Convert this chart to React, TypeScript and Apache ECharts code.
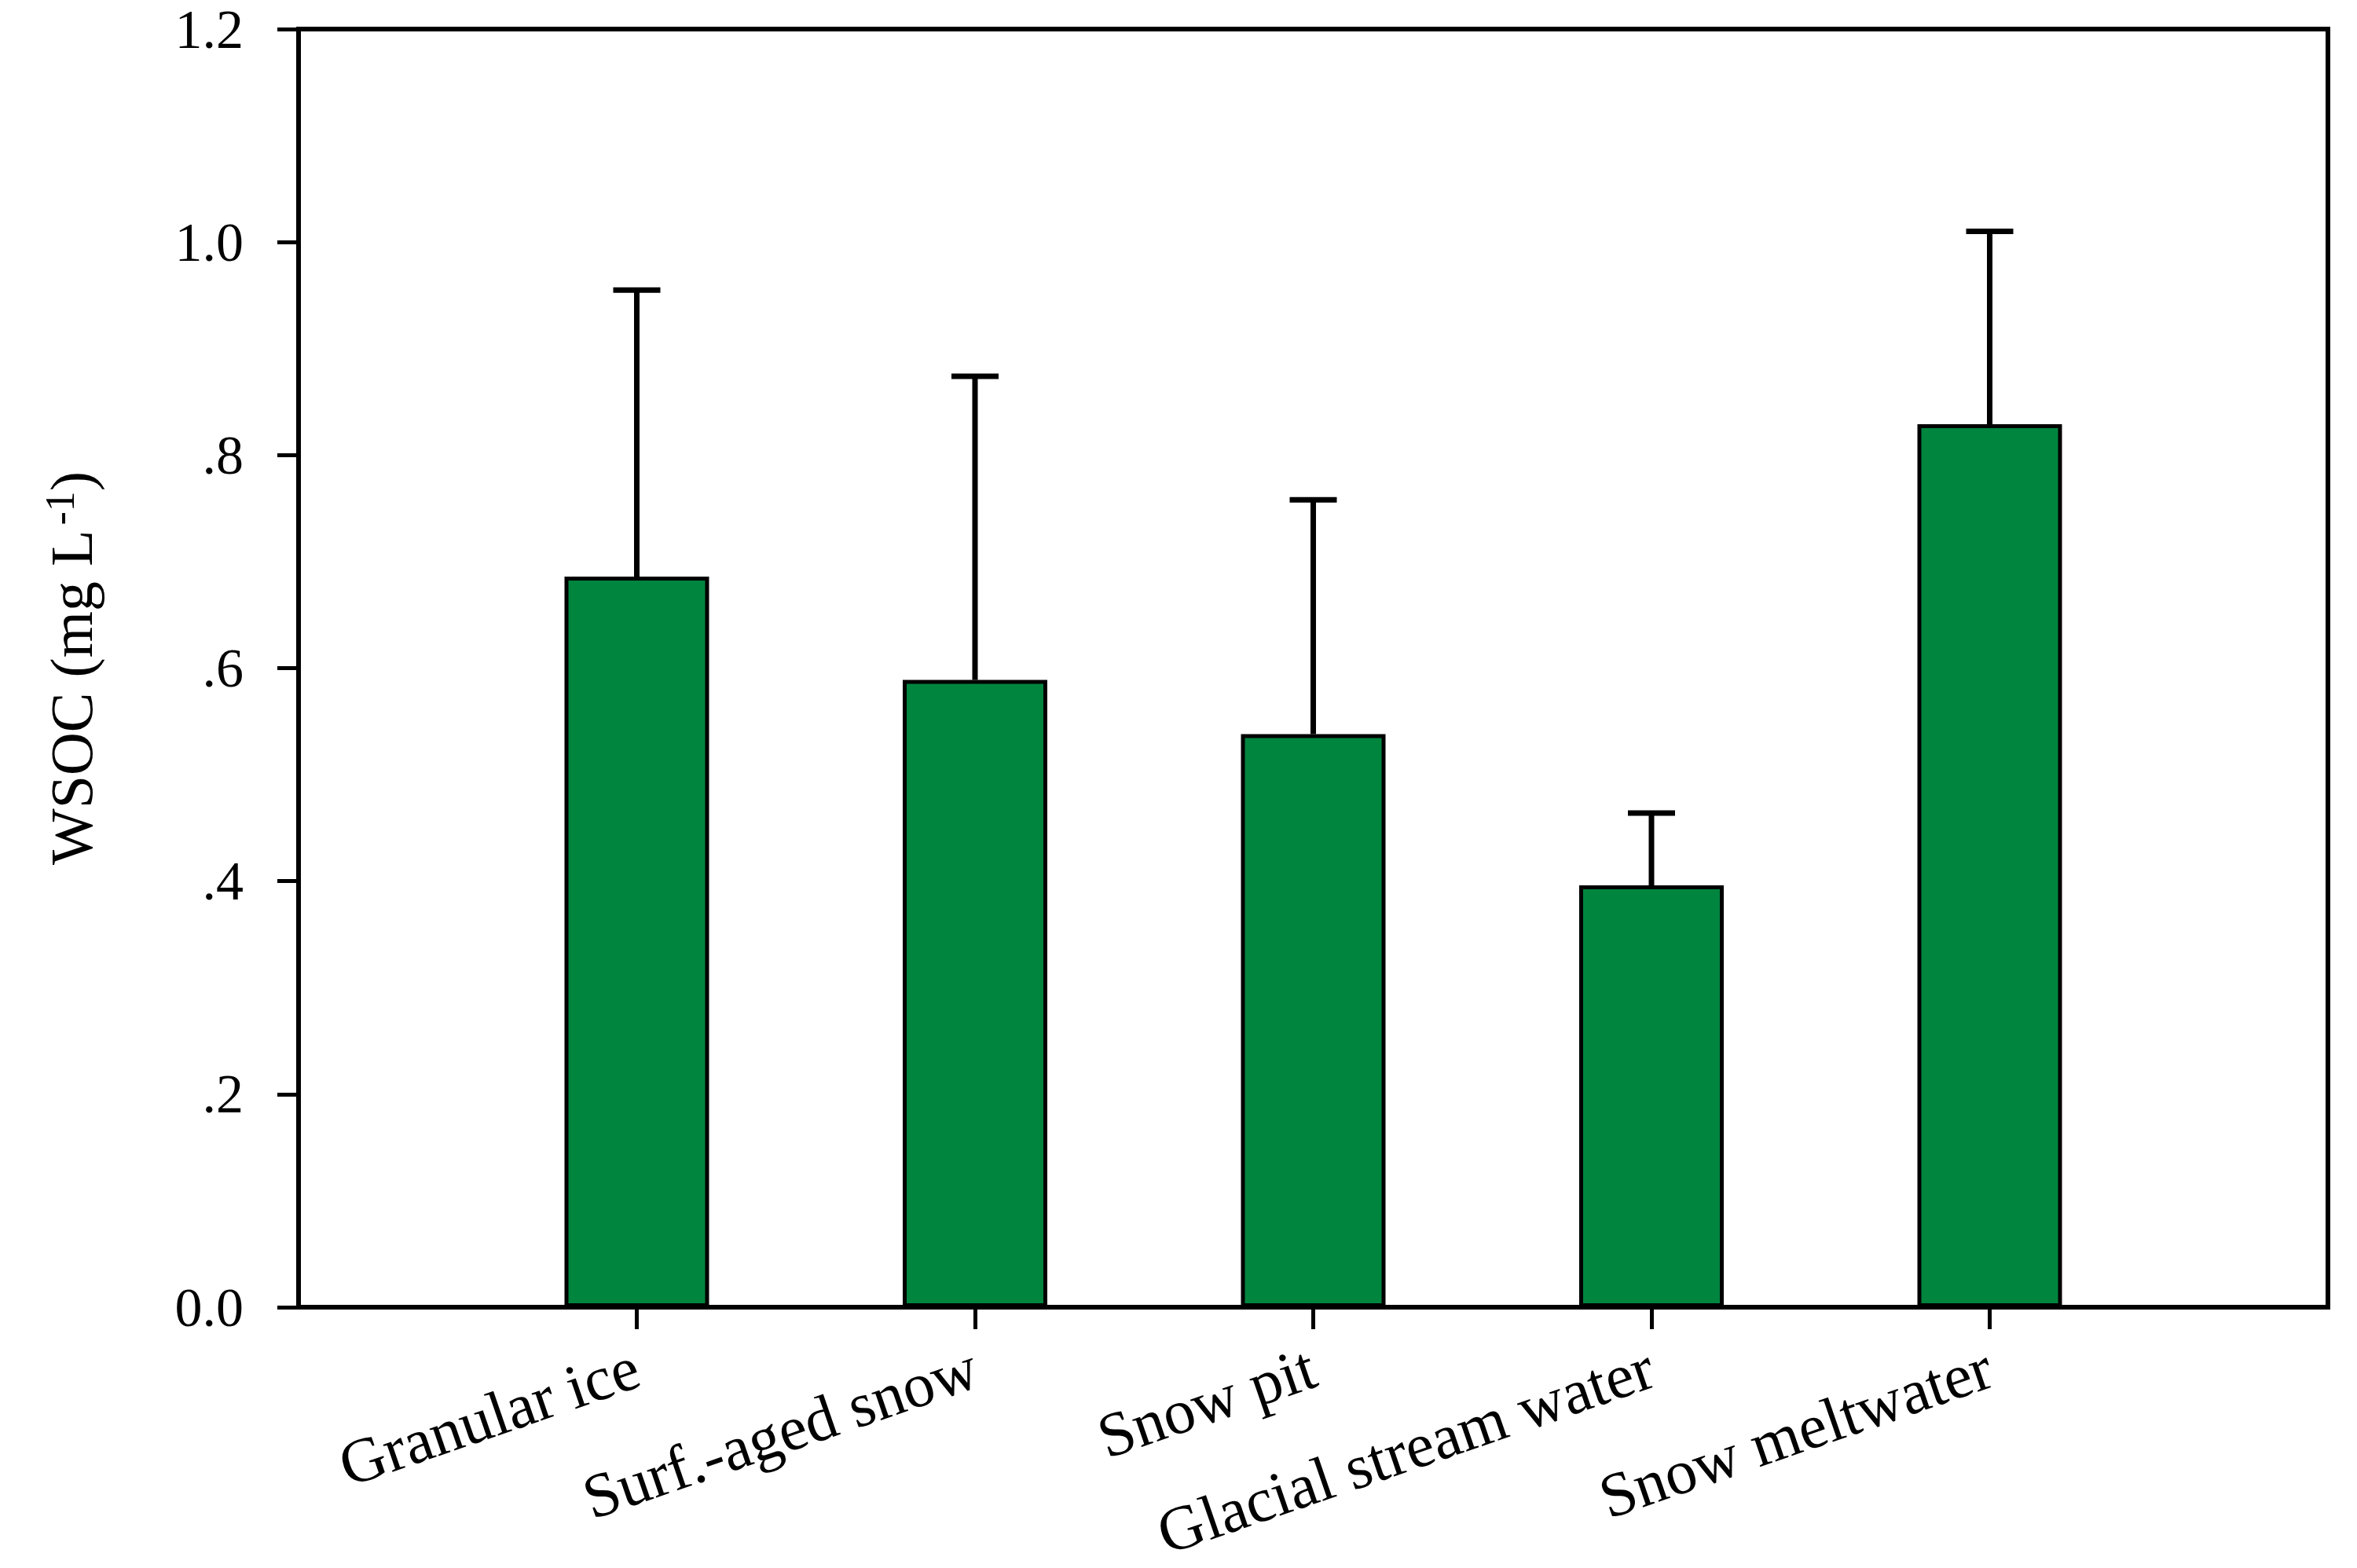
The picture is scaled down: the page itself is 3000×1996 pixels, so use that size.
import React, { useEffect, useRef } from "react";
import * as echarts from "echarts";

const categories = ["Granular ice", "Surf.-aged snow", "Snow pit", "Glacial stream water", "Snow meltwater"];
const means = [0.686, 0.589, 0.538, 0.396, 0.829];
const upperErrors = [0.269, 0.285, 0.22, 0.068, 0.181];
const yTickLabels = ["0.0", ".2", ".4", ".6", ".8", "1.0", "1.2"];

const FONT = "Liberation Serif";

export default function App() {
  const ref = useRef<HTMLDivElement>(null);
  useEffect(() => {
    if (!ref.current) return;
    const chart = echarts.init(ref.current, null, { renderer: "svg" });
    const axisCats = ["", ...categories, ""];
    const barData: any[] = ["-", ...means, "-"];
    const errData = means.map((m, i) => [i + 1, m, m + upperErrors[i]]);
    chart.setOption({
      animation: false,
      backgroundColor: "#ffffff",
      grid: {
        left: 380,
        right: 37,
        top: 37,
        bottom: 332,
        containLabel: false,
        outerBoundsMode: "none",
        show: true,
        borderColor: "#000",
        borderWidth: 6,
      },
      xAxis: {
        type: "category",
        data: axisCats,
        boundaryGap: false,
        axisLine: { show: true, lineStyle: { color: "#000", width: 6 } },
        axisTick: {
          show: true,
          inside: false,
          length: 28,
          lineStyle: { color: "#000", width: 5 },
          interval: (index: number) => index > 0 && index < axisCats.length - 1,
        },
        axisLabel: {
          interval: 0,
          rotate: 19,
          margin: 74,
          color: "#000",
          fontFamily: FONT,
          fontSize: 80,
        },
        splitLine: { show: false },
      },
      yAxis: {
        type: "value",
        min: 0,
        max: 1.2,
        interval: 0.2,
        name: "WSOC (mg L{sup|-1})",
        nameLocation: "middle",
        nameGap: 248,
        nameRotate: 90,
        nameTextStyle: {
          color: "#000",
          fontFamily: FONT,
          fontSize: 76,
          rich: {
            sup: { fontFamily: FONT, fontSize: 52, color: "#000", verticalAlign: "top", padding: [0, 0, 30, 6] },
          },
        },
        axisLine: { show: true, lineStyle: { color: "#000", width: 6 } },
        axisTick: { show: true, inside: false, length: 27, lineStyle: { color: "#000", width: 5 } },
        axisLabel: {
          margin: 70,
          color: "#000",
          fontFamily: FONT,
          fontSize: 70,
          formatter: (v: number) => yTickLabels[Math.round(v / 0.2)] ?? String(v),
        },
        splitLine: { show: false },
      },
      series: [
        {
          type: "bar",
          data: barData,
          barWidth: 184,
          itemStyle: { color: "#00853f", borderColor: "#000", borderWidth: 5 },
          z: 2,
        },
        {
          type: "custom",
          data: errData,
          encode: { x: 0, y: [1, 2] },
          z: 3,
          renderItem: (params: any, api: any) => {
            const x = api.value(0);
            const m = api.value(1);
            const t = api.value(2);
            const p0 = api.coord([x, m]);
            const p1 = api.coord([x, t]);
            return {
              type: "group",
              children: [
                {
                  type: "line",
                  shape: { x1: p0[0], y1: p0[1], x2: p1[0], y2: p1[1] },
                  style: { stroke: "#000", lineWidth: 7 },
                },
                {
                  type: "line",
                  shape: { x1: p1[0] - 30, y1: p1[1], x2: p1[0] + 30, y2: p1[1] },
                  style: { stroke: "#000", lineWidth: 7 },
                },
              ],
            };
          },
        },
      ],
    });
    return () => chart.dispose();
  }, []);
  return (
    <div
      ref={ref}
      style={{ position: "absolute", left: 0, top: 0, width: 3000, height: 1996, background: "#fff" }}
    />
  );
}
